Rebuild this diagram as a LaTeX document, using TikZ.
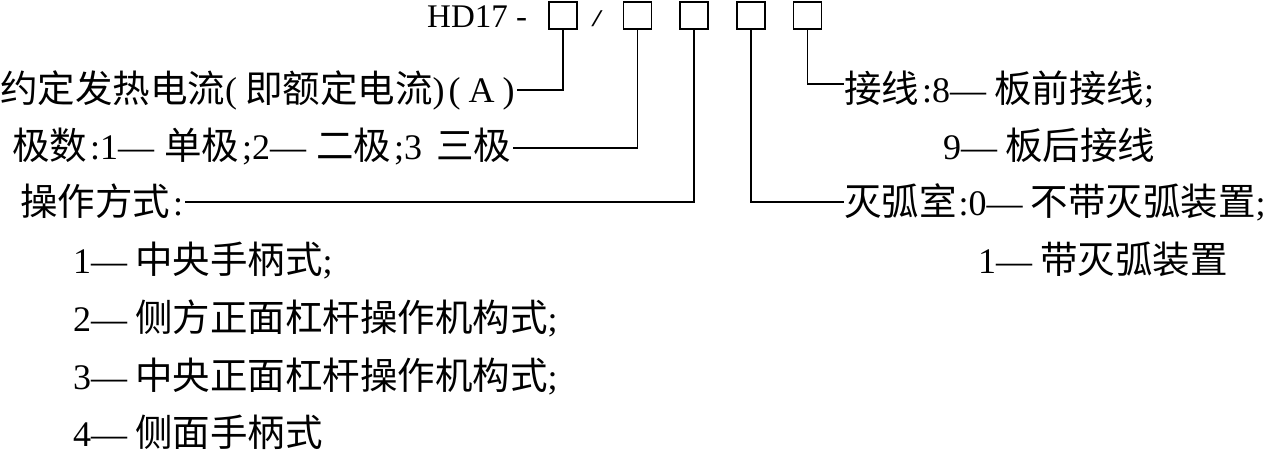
\documentclass[tikz,border=0pt]{standalone}
\usepackage{fontspec}
\setmainfont{Liberation Serif}
\newfontfamily\cjk{Noto Sans CJK SC}
\newcommand{\zh}[1]{{\cjk\fontsize{37.5}{44}\selectfont #1}}
\begin{document}
\begin{tikzpicture}[x=1pt,y=-1pt,
  txt/.style={anchor=base west, inner sep=0pt, font=\fontsize{36}{42}\selectfont},
  cbox/.style={draw, line width=1.6pt, minimum width=28pt, minimum height=27pt, inner sep=0pt},
  conn/.style={line width=1.3pt}]
\useasboundingbox (0,0) rectangle (1279,453);
% code boxes
\node[cbox] (b1) at (563,15.5) {};
\node[cbox] (b2) at (637.5,15.5) {};
\node[cbox] (b3) at (694,15.5) {};
\node[cbox] (b4) at (751,15.5) {};
\node[cbox] (b5) at (807.5,15.5) {};
\node[txt, font=\fontsize{33}{40}\selectfont] (hd) at (427,27) {HD17 -};
\node[inner sep=0pt] (sl) at (597,19) {\fontsize{24}{24}\selectfont\scalebox{1.7}[1]{/}};
% left texts
\node[txt] (t1) at (0,102) {\zh{约定发热电流}(\hspace{8pt}\zh{即额定电流})\hspace{4pt}(\hspace{8pt}A\hspace{8pt})};
\node[txt] (t2) at (12,159) {\zh{极数}\hspace{3pt}:1—\hspace{10pt}\zh{单极}\hspace{3pt};2—\hspace{10pt}\zh{二极}\hspace{3pt};3\hspace{14pt}\zh{三极}};
\node[txt] (t3) at (20,215) {\zh{操作方式}\hspace{3pt}:};
\node[txt] (t4) at (73,273) {1—\hspace{8pt}\zh{中央手柄式};};
\node[txt] (t5) at (73,331) {2—\hspace{8pt}\zh{侧方正面杠杆操作机构式};};
\node[txt] (t6) at (73,389) {3—\hspace{8pt}\zh{中央正面杠杆操作机构式};};
\node[txt] (t7) at (73,446) {4—\hspace{8pt}\zh{侧面手柄式}};
% right texts
\node[txt] (r1) at (844,102) {\zh{接线}\hspace{3pt}:8—\hspace{8pt}\zh{板前接线};};
\node[txt] (r2) at (943,159) {9—\hspace{8pt}\zh{板后接线}};
\node[txt] (r3) at (844,215) {\zh{灭弧室}\hspace{2pt}:0—\hspace{8pt}\zh{不带灭弧装置};};
\node[txt] (r4) at (978,273) {1—\hspace{8pt}\zh{带灭弧装置}};
% connectors
\draw[conn] (b1.south) |- ([xshift=2pt,yshift=12pt]t1.base east);
\draw[conn] (b2.south) |- ([xshift=2pt,yshift=11pt]t2.base east);
\draw[conn] (b3.south) |- ([xshift=2pt,yshift=13pt]t3.base east);
\draw[conn] (b4.south) |- ([yshift=13pt]r3.base west);
\draw[conn] (b5.south) |- ([yshift=18pt]r1.base west);
\end{tikzpicture}
\end{document}
